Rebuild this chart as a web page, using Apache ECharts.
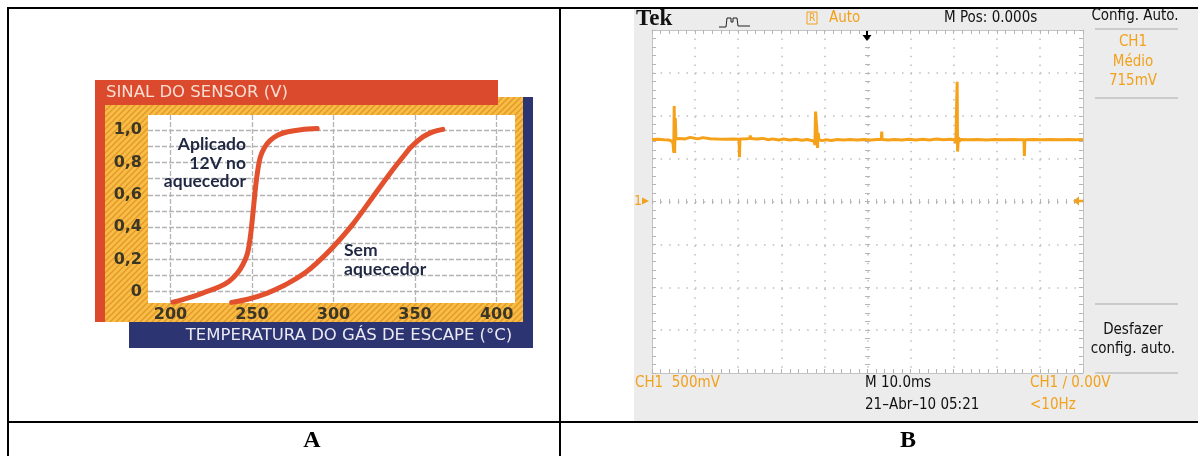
<!DOCTYPE html>
<html>
<head>
<meta charset="utf-8">
<script src="https://cdn.jsdelivr.net/npm/echarts@6/dist/echarts.min.js"></script>
<style>
html,body{margin:0;padding:0;background:#fff}
#chart{width:1198px;height:456px}
</style>
</head>
<body>
<div id="chart"></div>
<script>
// Panel A: lambda sensor output (V) versus exhaust gas temperature (°C)
const heatedCurve = [
  [201.5, -0.065], [212, -0.035], [222, 0.0], [230, 0.03], [236, 0.065],
  [241, 0.115], [244.5, 0.17], [247, 0.23], [248.7, 0.32], [250, 0.43],
  [251.2, 0.55], [252.3, 0.66], [253.5, 0.75], [255, 0.83], [257.5, 0.89],
  [261, 0.935], [266, 0.97], [272, 0.99], [280, 1.003], [290, 1.01]
];
const unheatedCurve = [
  [237.5, -0.066], [248, -0.045], [259, -0.01], [268, 0.03], [276, 0.075],
  [283, 0.12], [290, 0.18], [300, 0.28], [312, 0.42], [324, 0.585],
  [336, 0.75], [343, 0.84], [348, 0.9], [355, 0.96], [361, 0.99], [367, 1.005]
];
const heatedLabel = ['Aplicado', '12V no', 'aquecedor'];
const unheatedLabel = ['Sem', 'aquecedor'];

// Panel B: oscilloscope capture, CH1 (time in ms, voltage in V)
const scopeTrace = [
  [-50.0, 0.722], [-48.6, 0.726], [-47.2, 0.72], [-46.0, 0.716], [-45.3, 0.70],
  [-45.1, 0.67], [-44.95, 0.57], [-44.85, 1.114], [-44.75, 0.566], [-44.6, 0.974],
  [-44.45, 0.73], [-43.6, 0.735], [-42.3, 0.73], [-41.1, 0.748], [-40.9, 0.728],
  [-39.4, 0.73], [-38.2, 0.745], [-38.0, 0.728], [-36.5, 0.732], [-34.8, 0.728],
  [-33.0, 0.726], [-31.2, 0.73], [-29.8, 0.726], [-29.7, 0.516], [-29.6, 0.728],
  [-28.2, 0.732], [-27.3, 0.735], [-27.2, 0.77], [-27.1, 0.735], [-25.8, 0.73],
  [-24.3, 0.736], [-23.0, 0.72], [-22.0, 0.73], [-20.5, 0.718], [-19.5, 0.728],
  [-18.0, 0.716], [-16.6, 0.726], [-15.2, 0.714], [-14.0, 0.722], [-13.0, 0.712],
  [-12.4, 0.70], [-12.2, 0.66], [-12.05, 1.048], [-11.9, 0.93], [-11.75, 0.85],
  [-11.6, 0.625], [-11.45, 0.80], [-11.3, 0.72], [-11.0, 0.74], [-10.5, 0.71],
  [-9.6, 0.72], [-8.4, 0.712], [-7.0, 0.722], [-5.6, 0.716], [-4.0, 0.724],
  [-2.4, 0.716], [-0.8, 0.722], [0.8, 0.718], [2.2, 0.724], [3.2, 0.722],
  [3.3, 0.815], [3.4, 0.722], [4.8, 0.716], [6.4, 0.724], [8.0, 0.716],
  [9.6, 0.726], [11.2, 0.718], [12.8, 0.726], [14.4, 0.718], [16.0, 0.728],
  [17.6, 0.72], [19.2, 0.726], [20.2, 0.72], [20.5, 0.68], [20.7, 0.66],
  [20.8, 1.397], [20.9, 0.582], [21.1, 0.75], [21.3, 0.70], [21.6, 0.724],
  [23.5, 0.72], [25.5, 0.722], [27.5, 0.718], [29.5, 0.722], [31.5, 0.72],
  [33.5, 0.722], [35.5, 0.72], [36.3, 0.72], [36.4, 0.531], [36.5, 0.72],
  [38.5, 0.722], [40.5, 0.72], [42.5, 0.722], [44.5, 0.72], [46.5, 0.722],
  [48.5, 0.72], [50.0, 0.722]
];
const scopeHeader = { brand: 'Tek', mode: 'Auto', pos: 'M Pos: 0.000s', menu: 'Config. Auto.' };
const scopeSide = ['CH1', 'Médio', '715mV'];
const scopeUndo = ['Desfazer', 'config. auto.'];
const scopeFooter = { ch: 'CH1  500mV', time: 'M 10.0ms', trig: 'CH1 \u2215 0.00V', date: '21\u2013Abr\u201310 05:21', freq: '<10Hz' };
const panelNames = ['A', 'B'];

// striped orange fill behind panel A
const hatch = document.createElement('canvas');
hatch.width = 6; hatch.height = 6;
(function () {
  const c = hatch.getContext('2d');
  c.fillStyle = '#f7bd45';
  c.fillRect(0, 0, 6, 6);
  c.strokeStyle = '#e4972a';
  c.lineWidth = 1.4;
  c.beginPath();
  c.moveTo(0, 6); c.lineTo(6, 0);
  c.moveTo(-3, 3); c.lineTo(3, -3);
  c.moveTo(3, 9); c.lineTo(9, 3);
  c.stroke();
})();

const ORANGE = '#f2a11c';
const SCOPE_FONT = "'Liberation Sans Narrow','DejaVu Sans Condensed','Liberation Sans',sans-serif";
const A_FONT = "'Lato','Noto Sans',sans-serif";
const WIDE_FONT = "'DejaVu Sans','Noto Sans',sans-serif";

function txt(x, y, text, font, fill, align, z) {
  return { type: 'text', x: x, y: y, z: z == null ? 20 : z,
    style: { text: text, font: font, fill: fill, align: align || 'left', verticalAlign: 'middle' } };
}
function hline(x1, x2, y, color, w) {
  return { type: 'line', z: 20, shape: { x1: x1, y1: y, x2: x2, y2: y }, style: { stroke: color, lineWidth: w } };
}
function vline(x, y1, y2, color, w) {
  return { type: 'line', z: 20, shape: { x1: x, y1: y1, x2: x, y2: y2 }, style: { stroke: color, lineWidth: w } };
}

const graphics = [
  // table frame
  hline(7, 1198, 8, '#000', 2),
  vline(8, 7, 456, '#000', 2),
  vline(560, 7, 456, '#000', 2),
  hline(7, 1198, 422, '#000', 2),
  txt(312, 441, panelNames[0], "bold 24px 'Liberation Serif',serif", '#000', 'center'),
  txt(908, 441, panelNames[1], "bold 24px 'Liberation Serif',serif", '#000', 'center'),

  // panel A frame pieces
  { type: 'rect', z: -10, shape: { x: 523, y: 97, width: 10, height: 225 }, style: { fill: '#2c3472' } },
  { type: 'rect', z: -10, shape: { x: 129, y: 322, width: 404, height: 26 }, style: { fill: '#2c3472' } },
  { type: 'rect', z: -9, shape: { x: 105, y: 97, width: 418, height: 225 }, style: { fill: { image: hatch, repeat: 'repeat' } } },
  { type: 'rect', z: -8, shape: { x: 95, y: 80, width: 403, height: 25 }, style: { fill: '#dc4a2d' } },
  { type: 'rect', z: -8, shape: { x: 95, y: 80, width: 10, height: 242 }, style: { fill: '#dc4a2d' } },
  txt(106, 93, 'SINAL DO SENSOR (V)', '16.5px ' + WIDE_FONT, '#f8ddd2'),
  txt(349, 336, 'TEMPERATURA DO GÁS DE ESCAPE (°C)', '16.5px ' + WIDE_FONT, '#ebe9f2', 'center'),
  txt(246, 144, heatedLabel[0], 'bold 17.5px ' + A_FONT, '#1f2742', 'right'),
  txt(246, 163, heatedLabel[1], 'bold 17.5px ' + A_FONT, '#1f2742', 'right'),
  txt(246, 181, heatedLabel[2], 'bold 17.5px ' + A_FONT, '#1f2742', 'right'),
  txt(344, 250, unheatedLabel[0], 'bold 17.5px ' + A_FONT, '#1f2742', 'left'),
  txt(344, 269, unheatedLabel[1], 'bold 17.5px ' + A_FONT, '#1f2742', 'left'),

  // oscilloscope panel
  { type: 'rect', z: -10, shape: { x: 634, y: 9, width: 564, height: 412 }, style: { fill: '#ececec' } },
  txt(636, 19, scopeHeader.brand, "bold 23px 'Liberation Serif',serif", '#111'),
  { type: 'polyline', z: 20, shape: { points: [[719, 27], [726, 27], [727, 18], [731, 18], [731, 22], [733, 22], [733, 18], [737, 18], [738, 26], [750, 26]] },
    style: { stroke: '#222', lineWidth: 1, fill: null } },
  { type: 'rect', z: 20, shape: { x: 807, y: 12, width: 10, height: 12 }, style: { stroke: ORANGE, lineWidth: 1, fill: 'none' } },
  txt(812, 18.5, 'R', '10px ' + SCOPE_FONT, ORANGE, 'center'),
  txt(829, 18, scopeHeader.mode, '15px ' + SCOPE_FONT, ORANGE),
  txt(944, 18, scopeHeader.pos, '15px ' + SCOPE_FONT, '#111'),
  txt(1135, 16, scopeHeader.menu, '15px ' + SCOPE_FONT, '#111', 'center'),
  hline(1095, 1178, 29, '#a9a9a9', 1),
  txt(1133, 42, scopeSide[0], '15px ' + SCOPE_FONT, ORANGE, 'center'),
  txt(1133, 62, scopeSide[1], '15px ' + SCOPE_FONT, ORANGE, 'center'),
  txt(1133, 81, scopeSide[2], '15px ' + SCOPE_FONT, ORANGE, 'center'),
  hline(1095, 1178, 98, '#a9a9a9', 1),
  hline(1095, 1178, 304, '#a9a9a9', 1),
  txt(1133, 330, scopeUndo[0], '15px ' + SCOPE_FONT, '#111', 'center'),
  txt(1133, 349, scopeUndo[1], '15px ' + SCOPE_FONT, '#111', 'center'),
  hline(1095, 1178, 373, '#a9a9a9', 1),
  // channel ground marker and trigger markers
  txt(634, 201, '1', '14px ' + SCOPE_FONT, ORANGE),
  { type: 'polygon', z: 20, shape: { points: [[642, 197.5], [649, 201], [642, 204.5]] }, style: { fill: ORANGE } },
  { type: 'polygon', z: 20, shape: { points: [[1073, 201], [1079, 196.5], [1079, 205.5]] }, style: { fill: ORANGE } },
  hline(1078, 1083, 201, ORANGE, 2.5),
  { type: 'polygon', z: 20, shape: { points: [[862.5, 35], [871.5, 35], [867, 41]] }, style: { fill: '#000' } },
  vline(867, 31, 36, '#000', 2),
  txt(635, 383, scopeFooter.ch, '15px ' + SCOPE_FONT, ORANGE),
  txt(865, 383, scopeFooter.time, '15px ' + SCOPE_FONT, '#111'),
  txt(1030, 383, scopeFooter.trig, '15px ' + SCOPE_FONT, ORANGE),
  txt(865, 405, scopeFooter.date, '15px ' + SCOPE_FONT, '#111'),
  txt(1030, 405, scopeFooter.freq, '15px ' + SCOPE_FONT, ORANGE)
];

const isMultiple = (v, step) => Math.abs(v / step - Math.round(v / step)) < 1e-6;

const gridLineA = { show: true, showMinLine: false, showMaxLine: false,
  lineStyle: { color: '#b3b3b3', width: 1.3, type: [5, 2] } };
const labelA = { color: '#3b3626', fontFamily: WIDE_FONT, fontWeight: 'bold', fontSize: 16 };

const dotted = { color: '#bdbdbd', width: 1.5, type: [1.5, 7.12] };
const edge = { color: '#c4c4c4', width: 1 };
function scopeAxis(dim, position, extra) {
  const base = {
    type: 'value', gridIndex: 1, position: position,
    min: dim === 'x' ? -50 : -2, max: dim === 'x' ? 50 : 2, interval: dim === 'x' ? 10 : 0.5,
    axisLine: { show: true, onZero: false, lineStyle: edge },
    axisTick: { show: true, inside: true, length: 4, lineStyle: { color: '#b5b5b5' } },
    minorTick: { show: true, splitNumber: 5, length: 4, lineStyle: { color: '#b5b5b5' } },
    axisLabel: { show: false },
    splitLine: { show: false }
  };
  return Object.assign(base, extra || {});
}

const option = {
  animation: false,
  graphic: { elements: graphics },
  grid: [
    { left: 148, top: 115, width: 367, height: 188, show: true, backgroundColor: '#ffffff', borderWidth: 0 },
    { left: 652, top: 30, width: 431, height: 343, show: true, backgroundColor: '#ffffff', borderWidth: 0 }
  ],
  xAxis: [
    { type: 'value', gridIndex: 0, min: 186.2, max: 411.3, minInterval: 50, maxInterval: 50,
      axisLine: { show: false, onZero: false }, axisTick: { show: false }, splitLine: gridLineA,
      axisLabel: Object.assign({ margin: 4, formatter: v => (isMultiple(v, 50) ? String(Math.round(v)) : '') }, labelA) },
    scopeAxis('x', 'bottom', { splitLine: { show: true, showMinLine: false, showMaxLine: false, lineStyle: dotted } }),
    scopeAxis('x', 'top'),
    scopeAxis('x', 'bottom', { offset: -174,
      axisLine: { show: false, onZero: false },
      axisTick: { show: true, inside: false, length: 5, lineStyle: { color: '#b5b5b5' } },
      minorTick: { show: true, splitNumber: 5, length: 5, lineStyle: { color: '#b5b5b5' } } })
  ],
  yAxis: [
    { type: 'value', gridIndex: 0, min: -0.07, max: 1.094, minInterval: 0.1, maxInterval: 0.1,
      axisLine: { show: false, onZero: false }, axisTick: { show: false }, splitLine: gridLineA,
      axisLabel: Object.assign({ margin: 6, formatter: v => {
        if (!isMultiple(v, 0.2) || v < -0.01) return '';
        return Math.abs(v) < 1e-6 ? '0' : v.toFixed(1).replace('.', ',');
      } }, labelA) },
    scopeAxis('y', 'left', { splitLine: { show: true, showMinLine: false, showMaxLine: false, lineStyle: dotted } }),
    scopeAxis('y', 'right'),
    scopeAxis('y', 'left', { offset: -218,
      axisLine: { show: false, onZero: false },
      axisTick: { show: true, inside: false, length: 5, lineStyle: { color: '#b5b5b5' } },
      minorTick: { show: true, splitNumber: 5, length: 5, lineStyle: { color: '#b5b5b5' } } })
  ],
  series: [
    { name: 'Aplicado 12V no aquecedor', type: 'line', xAxisIndex: 0, yAxisIndex: 0, data: heatedCurve,
      smooth: 0.35, showSymbol: false, clip: false, lineStyle: { color: '#e2502e', width: 5, cap: 'round' } },
    { name: 'Sem aquecedor', type: 'line', xAxisIndex: 0, yAxisIndex: 0, data: unheatedCurve,
      smooth: 0.35, showSymbol: false, clip: false, lineStyle: { color: '#e2502e', width: 5, cap: 'round' } },
    { name: 'CH1', type: 'line', xAxisIndex: 1, yAxisIndex: 1, data: scopeTrace,
      showSymbol: false, sampling: null, lineStyle: { color: '#f5a21a', width: 3 } }
  ]
};

const chart = echarts.init(document.getElementById('chart'), null, { renderer: 'canvas' });
chart.setOption(option);
</script>
</body>
</html>
